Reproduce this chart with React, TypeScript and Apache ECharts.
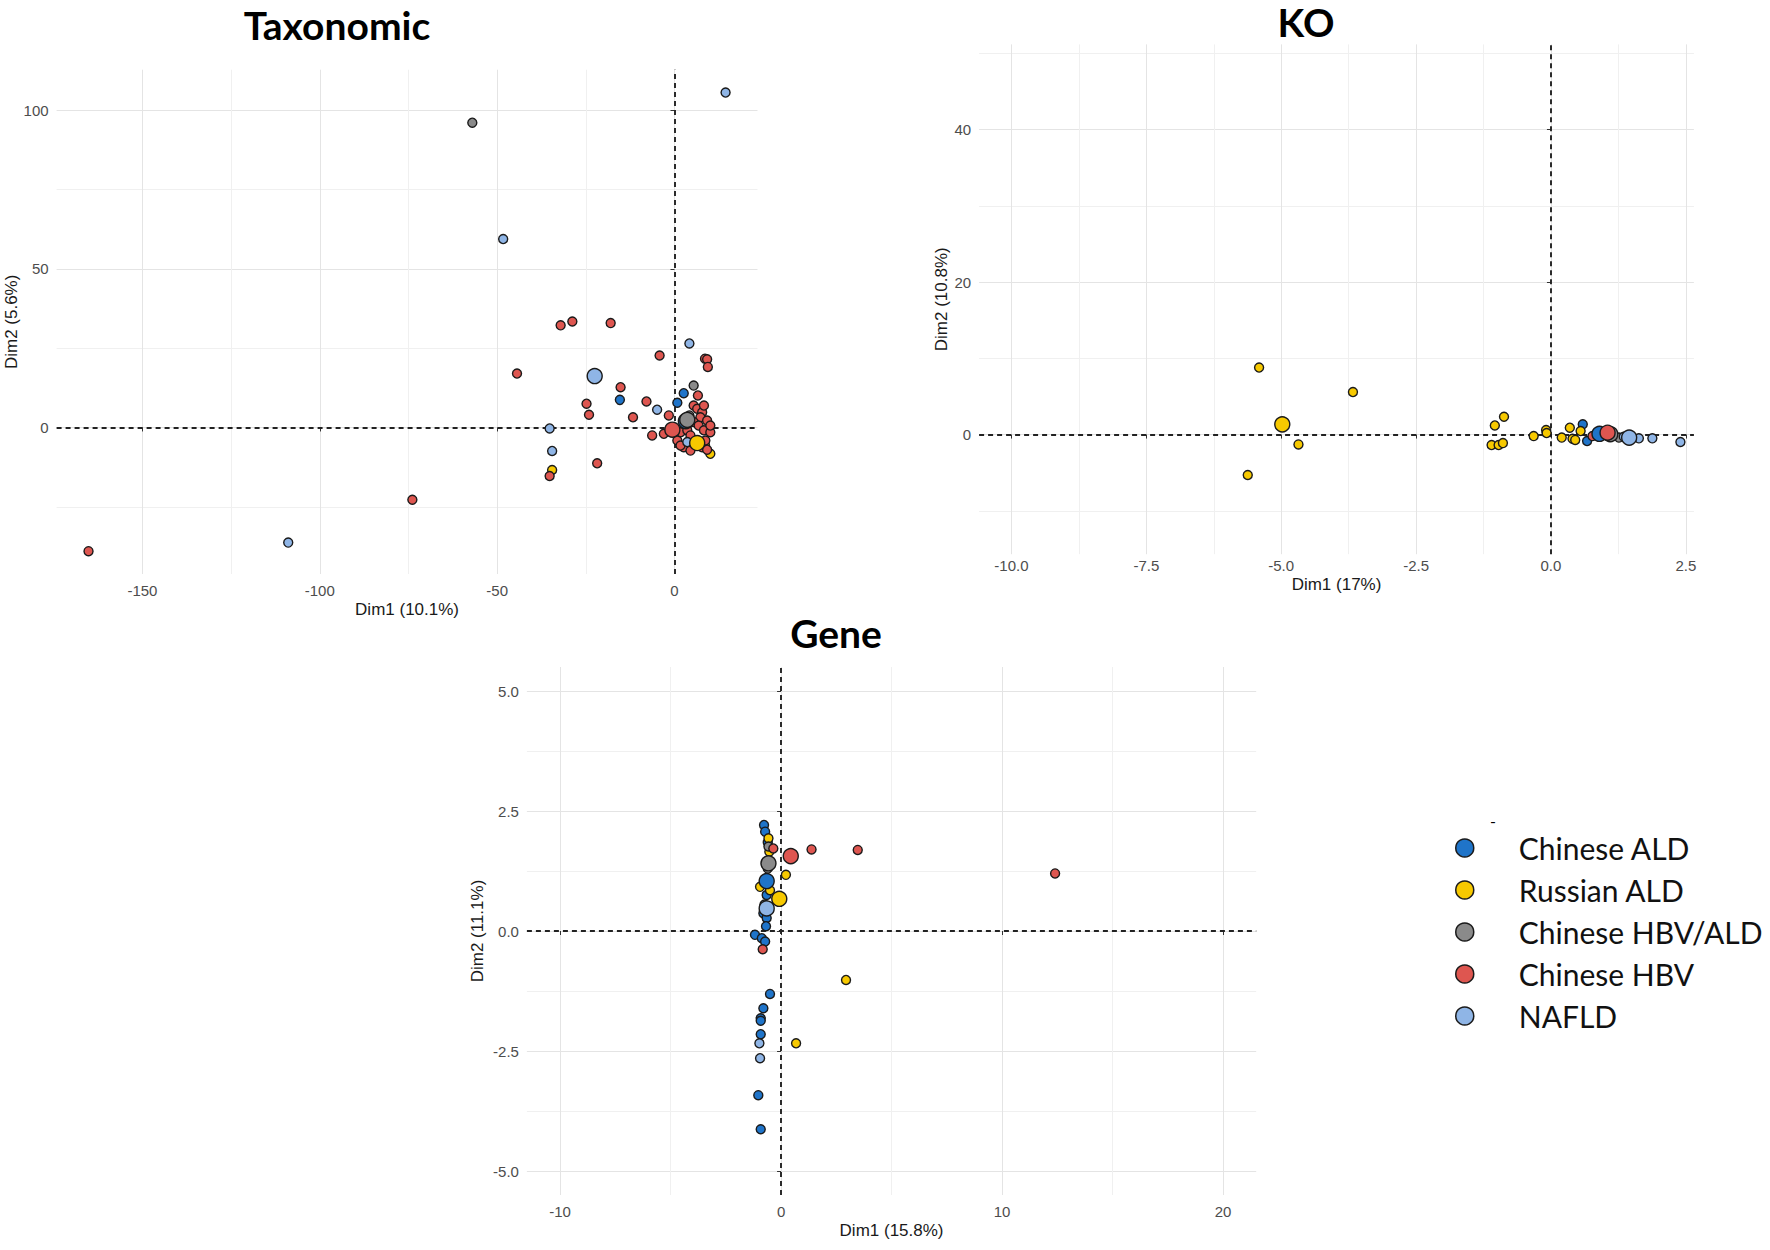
import React, { useEffect, useRef } from 'react';
import * as echarts from 'echarts';

const groups = ['Chinese ALD', 'Russian ALD', 'Chinese HBV/ALD', 'Chinese HBV', 'NAFLD'];
const groupColors = ['#1F74C9', '#F7C900', '#8A8A8A', '#DE5650', '#8FB5E6'];

// ---------- Taxonomic ----------
const taxChineseALD = [[-15.4, 8.7], [0.8, 7.8], [2.6, 10.8]];
const taxRussianALD = [[-34.5, -13.4], [10.1, -8.3], [8.6, -5.6]];
const taxHBVALD = [[-57.0, 96.1], [5.4, 13.2], [4.2, 3.8]];
const taxHBV = [
  [-165.2, -39.0], [-73.9, -22.8], [-44.4, 17.0], [-32.1, 32.2], [-28.8, 33.4], [-18.0, 32.9],
  [-4.2, 22.7], [8.6, 21.7], [9.2, 21.5], [9.4, 19.1], [-15.2, 12.7], [-24.8, 7.5], [-24.1, 4.0],
  [-11.7, 3.2], [-7.9, 8.2], [-1.6, 3.8], [-35.2, -15.3], [-21.8, -11.3], [-6.3, -2.5], [-3.0, -2.0],
  [6.6, 10.1], [5.4, 6.9], [6.4, 5.9], [7.8, 4.8], [8.3, 6.9], [7.3, 3.2], [5.4, 1.7], [9.2, 2.2],
  [6.8, 0.6], [1.7, -1.5], [3.6, -0.9], [4.5, -2.5], [8.3, -0.9], [10.1, -1.5], [10.1, 0.6],
  [0.8, -4.1], [2.6, -6.2], [7.8, -6.2], [8.7, -4.1], [9.2, -7.0], [4.5, -7.3], [1.7, -5.7],
];
const taxNAFLD = [[14.4, 105.6], [-48.3, 59.4], [-108.9, -36.3], [4.2, 26.5], [-4.9, 5.6], [-35.2, -0.3], [-34.5, -7.4], [3.6, -4.6]];
const taxCentroids = [[3.2, 2.0], [6.4, -4.9], [3.6, 2.4], [-0.6, -0.7], [-22.5, 16.2]];

// ---------- KO ----------
const koChineseALD = [[0.59, 1.34], [0.67, -0.85]];
const koRussianALD = [
  [-5.41, 8.79], [-3.67, 5.58], [-4.68, -1.29], [-5.62, -5.31], [-1.04, 1.2], [-0.87, 2.34],
  [-1.1, -1.38], [-0.97, -1.38], [-0.89, -1.12], [-0.32, -0.2], [-0.09, 0.6], [-0.08, 0.2],
  [0.2, -0.4], [0.35, 0.9], [0.4, -0.55], [0.55, 0.46], [0.45, -0.7],
];
const koHBVALD = [[1.26, -0.4]];
const koHBV = [[0.77, -0.2], [0.89, -0.1], [1.14, 0.0], [0.95, 0.3]];
const koNAFLD = [[1.35, -0.3], [1.63, -0.5], [1.88, -0.5], [2.4, -0.98]];
const koCentroids = [[0.9, 0.1], [-4.98, 1.34], [1.1, 0.05], [1.05, 0.24], [1.45, -0.4]];

// ---------- Gene ----------
const geneChineseALD = [
  [-0.77, 2.21], [-0.72, 2.07], [-0.6, 1.85], [-0.65, 0.75], [-0.8, 0.37], [-0.65, 0.27], [-0.68, 0.1],
  [-1.18, -0.08], [-0.87, -0.15], [-0.72, -0.22], [-0.5, -1.31], [-0.8, -1.61], [-0.92, -1.82],
  [-0.92, -1.87], [-0.92, -2.15], [-1.03, -3.42], [-0.92, -4.13],
];
const geneRussianALD = [[-0.57, 1.93], [-0.53, 1.65], [0.22, 1.17], [-0.95, 0.92], [-0.5, 0.85], [2.94, -1.02], [0.68, -2.34]];
const geneHBVALD = [[-0.57, 1.76], [-0.6, 1.3]];
const geneHBV = [[-0.35, 1.72], [1.38, 1.7], [3.47, 1.69], [12.4, 1.2], [-0.83, -0.38]];
const geneNAFLD = [[-0.75, 0.55], [-0.98, -2.34], [-0.95, -2.65]];
const geneCentroids = [[-0.65, 1.04], [-0.08, 0.67], [-0.57, 1.41], [0.44, 1.56], [-0.65, 0.47]];

// ---------- axis breaks ----------
const taxXGrid = [-150, -125, -100, -75, -50, -25, 0];
const taxXTicks = [-150, -100, -50, 0];
const taxYGrid = [-25, 0, 25, 50, 75, 100];
const taxYTicks = [0, 50, 100];

const koXGrid = [-10, -8.75, -7.5, -6.25, -5, -3.75, -2.5, -1.25, 0, 1.25, 2.5];
const koXTicks = [-10, -7.5, -5, -2.5, 0, 2.5];
const koYGrid = [-10, 0, 10, 20, 30, 40, 50];
const koYTicks = [0, 20, 40];

const geneXGrid = [-10, -5, 0, 5, 10, 15, 20];
const geneXTicks = [-10, 0, 10, 20];
const geneYGrid = [-5, -3.75, -2.5, -1.25, 0, 1.25, 2.5, 3.75, 5];
const geneYTicks = [-5, -2.5, 0, 2.5, 5];

const MAJOR = '#E4E4E4';
const MINOR = '#F0F0F0';
const AXIS_FONT = 'Liberation Sans, Arial, sans-serif';

const panels = [
  {
    title: 'Taxonomic', titleX: 337, titleY: 5,
    grid: { left: 56.6, top: 69.7, width: 700.9, height: 504.3 },
    xExt: [-174.2, 23.4], yExt: [-46.2, 112.8],
    xGrid: taxXGrid, xTicks: taxXTicks, yGrid: taxYGrid, yTicks: taxYTicks,
    xDec: 0, yDec: 0, xName: 'Dim1 (10.1%)', yName: 'Dim2 (5.6%)', yNameGap: 37,
    xMargin: 9, xNameGap: 27,
    data: [taxChineseALD, taxRussianALD, taxHBVALD, taxHBV, taxNAFLD], centroids: taxCentroids,
  },
  {
    title: 'KO', titleX: 1306, titleY: 2,
    grid: { left: 979.1, top: 44.4, width: 714.8, height: 509.8 },
    xExt: [-10.6, 2.65], yExt: [-15.7, 51.2],
    xGrid: koXGrid, xTicks: koXTicks, yGrid: koYGrid, yTicks: koYTicks,
    xDec: 1, yDec: 0, xName: 'Dim1 (17%)', yName: 'Dim2 (10.8%)', yNameGap: 29,
    xMargin: 4, xNameGap: 22,
    data: [koChineseALD, koRussianALD, koHBVALD, koHBV, koNAFLD], centroids: koCentroids,
  },
  {
    title: 'Gene', titleX: 836, titleY: 613,
    grid: { left: 526.9, top: 667, width: 729.3, height: 528 },
    xExt: [-11.5, 21.5], yExt: [-5.5, 5.5],
    xGrid: geneXGrid, xTicks: geneXTicks, yGrid: geneYGrid, yTicks: geneYTicks,
    xDec: 0, yDec: 1, xName: 'Dim1 (15.8%)', yName: 'Dim2 (11.1%)', yNameGap: 41,
    xMargin: 9, xNameGap: 27,
    data: [geneChineseALD, geneRussianALD, geneHBVALD, geneHBV, geneNAFLD], centroids: geneCentroids,
  },
];

function gridColors(vals: number[], ticks: number[]) {
  return vals.map((v) => (ticks.indexOf(v) >= 0 ? MAJOR : MINOR));
}

function buildOption() {
  const grid: any[] = [];
  const xAxis: any[] = [];
  const yAxis: any[] = [];
  const series: any[] = [];
  const graphic: any[] = [];

  panels.forEach((p, i) => {
    grid.push({ ...p.grid, containLabel: false });
    const fmt = (dec: number) => (v: any) => Number(v).toFixed(dec);
    const nameStyle = { fontFamily: AXIS_FONT, fontSize: 17, color: '#1a1a1a' };
    const labelStyle = { fontFamily: AXIS_FONT, fontSize: 15, color: '#4D4D4D' };
    xAxis.push({
      type: 'value', gridIndex: i, min: p.xExt[0], max: p.xExt[1], position: 'bottom',
      axisLine: { show: false },
      axisTick: { show: false, customValues: p.xGrid },
      splitLine: { show: true, lineStyle: { color: gridColors(p.xGrid, p.xTicks), width: 1 } },
      axisLabel: { show: true, customValues: p.xTicks, formatter: fmt(p.xDec), margin: p.xMargin, ...labelStyle },
      name: p.xName, nameLocation: 'middle', nameGap: p.xNameGap, nameTextStyle: nameStyle,
    });
    xAxis.push({
      type: 'value', gridIndex: i, min: p.xExt[0], max: p.xExt[1], position: 'bottom',
      axisLine: { show: false },
      axisTick: { show: true, customValues: p.xTicks, length: 4, lineStyle: { color: '#333', width: 1 } },
      splitLine: { show: false }, axisLabel: { show: false },
    });
    yAxis.push({
      type: 'value', gridIndex: i, min: p.yExt[0], max: p.yExt[1], position: 'left',
      axisLine: { show: false },
      axisTick: { show: false, customValues: p.yGrid },
      splitLine: { show: true, lineStyle: { color: gridColors(p.yGrid, p.yTicks), width: 1 } },
      axisLabel: { show: true, customValues: p.yTicks, formatter: fmt(p.yDec), margin: 8, ...labelStyle },
      name: p.yName, nameLocation: 'middle', nameGap: p.yNameGap, nameRotate: 90, nameTextStyle: nameStyle,
    });
    yAxis.push({
      type: 'value', gridIndex: i, min: p.yExt[0], max: p.yExt[1], position: 'left',
      axisLine: { show: false },
      axisTick: { show: true, customValues: p.yTicks, length: 4, lineStyle: { color: '#333', width: 1 } },
      splitLine: { show: false }, axisLabel: { show: false },
    });

    const xi = i * 2;
    const yi = i * 2;
    series.push({
      type: 'scatter', name: 'zero-' + i, data: [], xAxisIndex: xi, yAxisIndex: yi, z: 1,
      markLine: {
        silent: true, symbol: ['none', 'none'], label: { show: false }, z: 1,
        lineStyle: { type: [5, 4], color: '#222', width: 1.9 },
        emphasis: { disabled: true },
        data: [{ xAxis: 0 }, { yAxis: 0 }],
      },
    });
    p.data.forEach((d, g) => {
      series.push({
        type: 'scatter', name: groups[g], xAxisIndex: xi, yAxisIndex: yi, z: 3,
        data: d, symbol: 'circle', symbolSize: 9,
        itemStyle: { color: groupColors[g], borderColor: '#1a1a1a', borderWidth: 1.4, opacity: 1 },
        emphasis: { disabled: true },
      });
    });
    p.centroids.forEach((c, g) => {
      series.push({
        type: 'scatter', name: groups[g], xAxisIndex: xi, yAxisIndex: yi, z: 4,
        data: [c], symbol: 'circle', symbolSize: 15,
        itemStyle: { color: groupColors[g], borderColor: '#1a1a1a', borderWidth: 1.4, opacity: 1 },
        emphasis: { disabled: true },
      });
    });

    graphic.push({
      type: 'text', x: p.titleX, y: p.titleY, z: 10,
      style: {
        text: p.title, textAlign: 'center', textVerticalAlign: 'top',
        fontFamily: 'Lato', fontWeight: 'bold', fontSize: 39, fill: '#000',
      },
    });
  });

  graphic.push({
    type: 'text', x: 1493, y: 820, z: 10,
    style: { text: '-', textAlign: 'center', textVerticalAlign: 'middle', fontFamily: 'Lato', fontSize: 16, fill: '#000' },
  });

  return {
    animation: false,
    backgroundColor: '#fff',
    grid, xAxis, yAxis, series, graphic,
    legend: {
      data: groups.map((n, i) => ({
        name: n, icon: 'circle',
        itemStyle: { color: groupColors[i], borderColor: '#1a1a1a', borderWidth: 1.5 },
      })),
      orient: 'vertical', left: 1450, top: 828,
      itemWidth: 98, itemHeight: 18, itemGap: 12,
      selectedMode: false,
      textStyle: { fontFamily: 'Lato', fontSize: 30, color: '#111', lineHeight: 30 },
    },
  };
}

export default function App() {
  const ref = useRef<HTMLDivElement>(null);
  useEffect(() => {
    const chart = echarts.init(ref.current as HTMLDivElement, null, { renderer: 'svg' });
    chart.setOption(buildOption() as any);
    return () => chart.dispose();
  }, []);
  return <div ref={ref} style={{ position: 'absolute', left: 0, top: 0, width: 1770, height: 1250 }} />;
}
